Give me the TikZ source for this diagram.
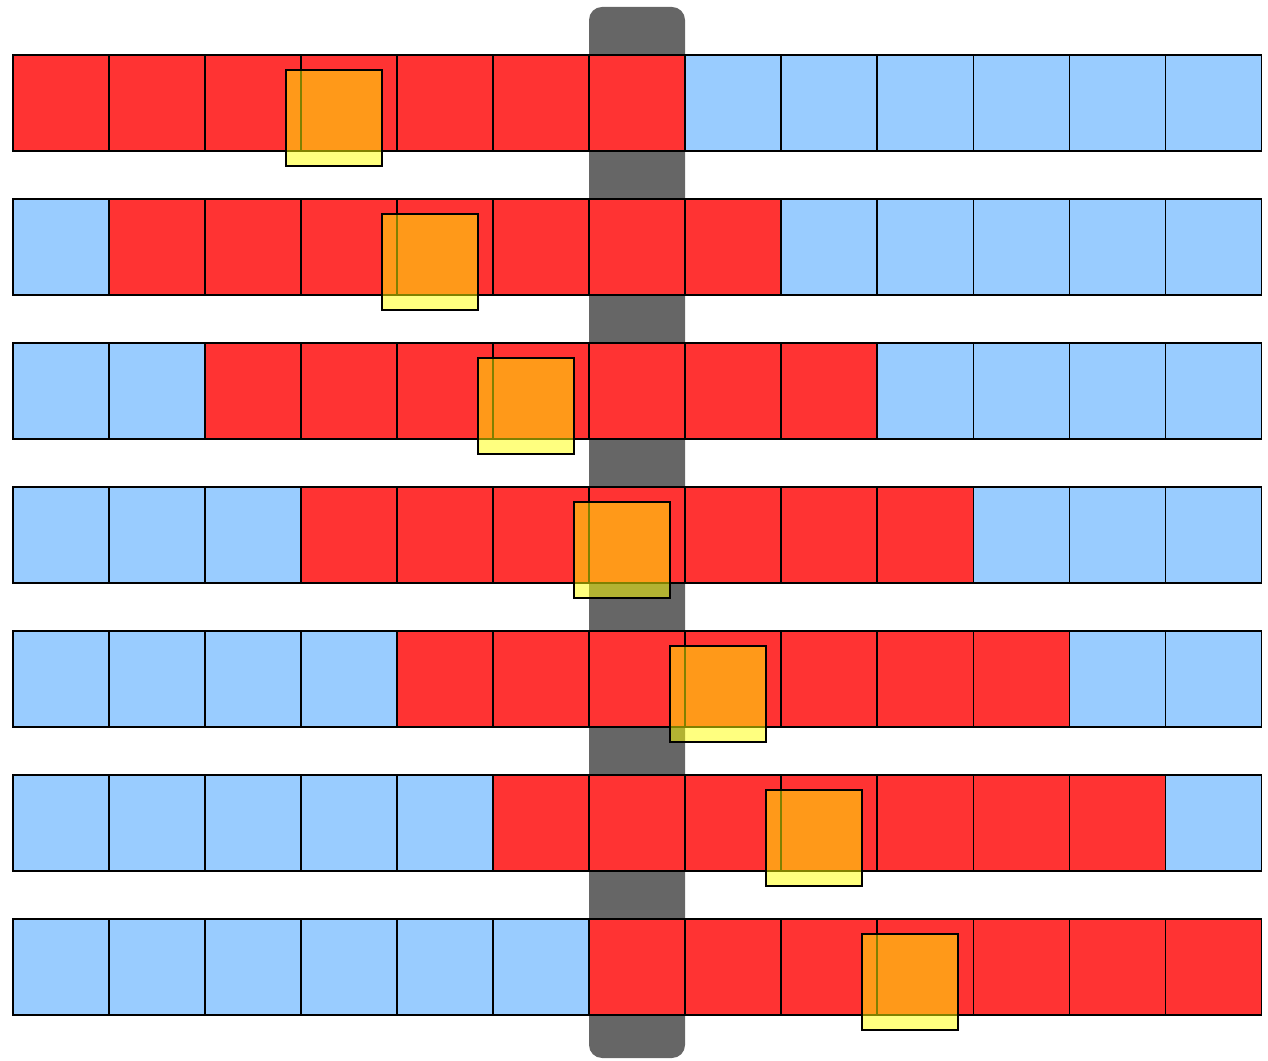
\documentclass[tikz,border=0pt]{standalone}
\usepackage{tikz}
\usepackage{xcolor}
\definecolor{cellred}{HTML}{FF3333}
\definecolor{cellblue}{HTML}{99CCFF}
\definecolor{bargray}{HTML}{666666}
\definecolor{winyellow}{HTML}{FFFF00}

\begin{document}
\begin{tikzpicture}[line width=0.3pt,
  cell/.style={draw=black,fill=cellblue},
  hot/.style={draw=black,fill=cellred},
  window/.style={draw=black,fill=winyellow,fill opacity=0.5}]
\useasboundingbox (0,0) rectangle (12.68,10.6);
% centre bar behind the rows
\fill[bargray,rounded corners=0.13cm] (5.89,0.02) rectangle (6.85,10.53);
\foreach \r in {0,...,6} {
  \pgfmathsetmacro\top{10.05-1.44*\r}
  \foreach \c in {0,...,12}
    \draw[cell] (0.13+0.96*\c,\top) rectangle ++(0.96,-0.96);
  \pgfmathtruncatemacro\e{\r+6}
  \foreach \c in {\r,...,\e}
    \draw[hot] (0.13+0.96*\c,\top) rectangle ++(0.96,-0.96);
  \draw[window] (2.86+0.96*\r,\top-0.15) rectangle ++(0.96,-0.96);
}
\end{tikzpicture}
\end{document}
